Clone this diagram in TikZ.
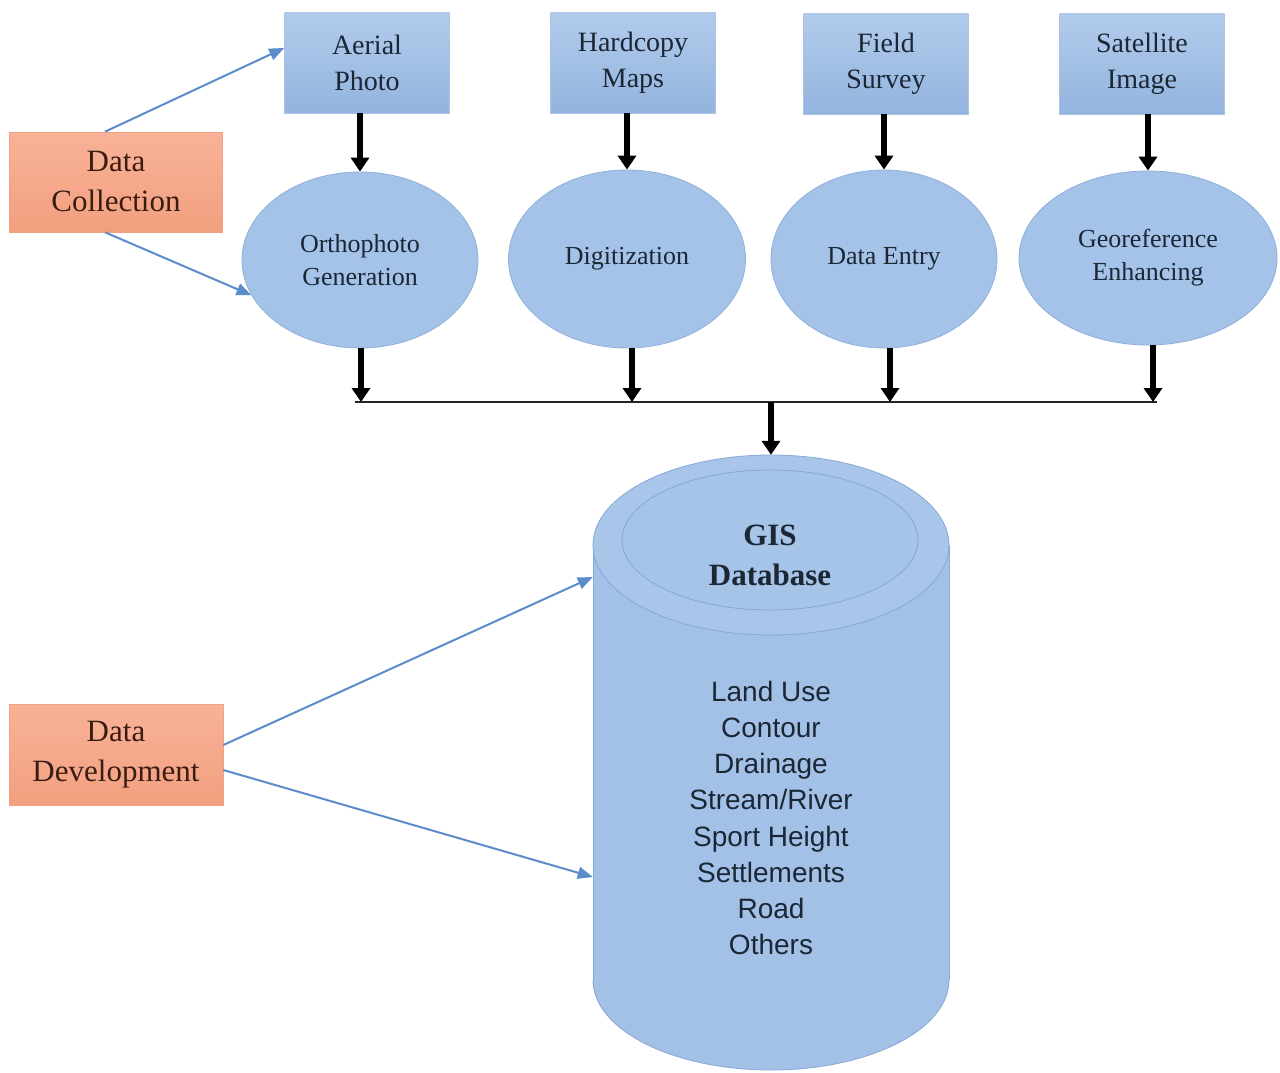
\documentclass[tikz,border=0pt]{standalone}
\usepackage{fontspec}
\setmainfont{Liberation Serif}
\newfontfamily\listfont{Liberation Sans}
\usetikzlibrary{arrows.meta,shapes.geometric}
\definecolor{srcblue1}{HTML}{B2CBEB}
\definecolor{srcblue2}{HTML}{93B4DE}
\definecolor{ellblue}{HTML}{A5C3E8}
\definecolor{ellline}{HTML}{8FB0DA}
\definecolor{orangetop}{HTML}{F8B297}
\definecolor{orangebot}{HTML}{F2A07F}
\definecolor{arrowblue}{HTML}{5B8DCB}
\definecolor{cylfill}{HTML}{A3C1E7}
\definecolor{cyltop}{HTML}{A9C6EA}
\definecolor{cylinner}{HTML}{A6C3E8}
\definecolor{cylline}{HTML}{86A8D6}
\definecolor{navytext}{HTML}{1C2736}
\definecolor{browntext}{HTML}{3A1C12}
\begin{document}
\begin{tikzpicture}[x=1pt,y=-1pt,
  srcbox/.style={rectangle, top color=srcblue1, bottom color=srcblue2, draw=srcblue2!80!white, line width=0.6pt,
    minimum width=165pt, minimum height=100pt, inner sep=0pt, align=center, text=navytext,
    font=\fontsize{28}{36}\selectfont},
  orbox/.style={rectangle, top color=orangetop, bottom color=orangebot, draw=orangebot, line width=0.6pt,
    minimum width=213pt, minimum height=100pt, inner sep=0pt, align=center, text=browntext,
    font=\fontsize{31}{40}\selectfont},
  procell/.style={ellipse, fill=ellblue, draw=ellline, line width=0.8pt, inner sep=0pt, align=center,
    text=navytext, font=\fontsize{26}{33}\selectfont},
  bigarrow/.style={line width=6pt, -{Triangle[width=18pt,length=14pt]}, black},
  bluearrow/.style={line width=2pt, arrowblue, -{Triangle[width=12pt,length=15pt]}},
  busline/.style={line width=2pt, black!85},
]
\useasboundingbox (0,0) rectangle (1280,1073);
\fill[white] (0,0) rectangle (1280,1073);

% source boxes
\node[srcbox] (ap) at (367,63) {Aerial\\Photo};
\node[srcbox] (hm) at (633,63) {Hardcopy\\Maps};
\node[srcbox] (fs) at (886,64) {Field\\Survey};
\node[srcbox] (si) at (1142,64) {Satellite\\Image};

% process ellipses
\node[procell, minimum width=236pt, minimum height=176pt] (e1) at (360,260) {Orthophoto\\Generation};
\node[procell, minimum width=237pt, minimum height=178pt] (e2) at (627,259) {Digitization};
\node[procell, minimum width=226pt, minimum height=178pt] (e3) at (884,259) {Data Entry};
\node[procell, minimum width=258pt, minimum height=174pt] (e4) at (1148,258) {Georeference\\Enhancing};

% side boxes
\node[orbox] (dc) at (116,182) {Data\\Collection};
\node[orbox, minimum width=214pt, minimum height=101pt] (dd) at (116,755) {Data\\Development};

% cylinder (GIS database)
\fill[cylfill] (593,545) rectangle (949,980);
\fill[cylfill] (771,980) ellipse [x radius=178, y radius=90];
\begin{scope}
  \clip (580,980) rectangle (962,1073);
  \draw[cylline, line width=0.8pt] (771,980) ellipse [x radius=178, y radius=90];
\end{scope}
\draw[cylline, line width=0.8pt] (593,545) -- (593,980);
\draw[cylline, line width=0.8pt] (949,545) -- (949,980);
\filldraw[fill=cyltop, draw=cylline, line width=0.8pt] (771,545) ellipse [x radius=178, y radius=90];
\filldraw[fill=cylinner, draw=cylline, line width=0.8pt] (770,540) ellipse [x radius=148, y radius=70];
\node[inner sep=0pt, minimum width=356pt, minimum height=615pt] (db) at (771,762.5) {};
\node[align=center, text=navytext, font=\fontsize{31}{40}\selectfont\bfseries] (gis) at (770,555) {GIS\\Database};
\node[align=center, text=navytext, font=\listfont\fontsize{28}{36.1}\selectfont] (list) at (771,818)
  {Land Use\\Contour\\Drainage\\Stream/River\\Sport Height\\Settlements\\Road\\Others};

% arrows from sources to processes
\draw[bigarrow] (ap.south -| e1) -- (e1.north);
\draw[bigarrow] (hm.south -| e2) -- (e2.north);
\draw[bigarrow] (fs.south -| e3) -- (e3.north);
\draw[bigarrow] (si.south -| e4) -- (e4.north);

% bus
\coordinate (busL) at (355,402);
\coordinate (busR) at (1157,402);
\coordinate (busM) at (771,402);
\draw[busline] (busL) -- (busR);
\draw[bigarrow] ([xshift=1pt]e1.south) -- ([xshift=1pt]e1.south |- busL);
\draw[bigarrow] ([xshift=5pt]e2.south) -- ([xshift=5pt]e2.south |- busL);
\draw[bigarrow] ([xshift=6pt]e3.south) -- ([xshift=6pt]e3.south |- busL);
\draw[bigarrow] ([xshift=5pt]e4.south) -- ([xshift=5pt]e4.south |- busL);
\draw[bigarrow] (busM) -- (busM |- db.north);

% blue arrows
\draw[bluearrow] ([xshift=-11pt]dc.north) -- ([yshift=15pt]ap.west);
\draw[bluearrow] ([xshift=-11pt]dc.south) -- (e1.198);
\draw[bluearrow] ([yshift=10pt]dd.east) -- ([yshift=185.5pt]db.west);
\draw[bluearrow] ([yshift=-15pt]dd.east) -- ([yshift=-114.5pt]db.west);
\end{tikzpicture}
\end{document}
